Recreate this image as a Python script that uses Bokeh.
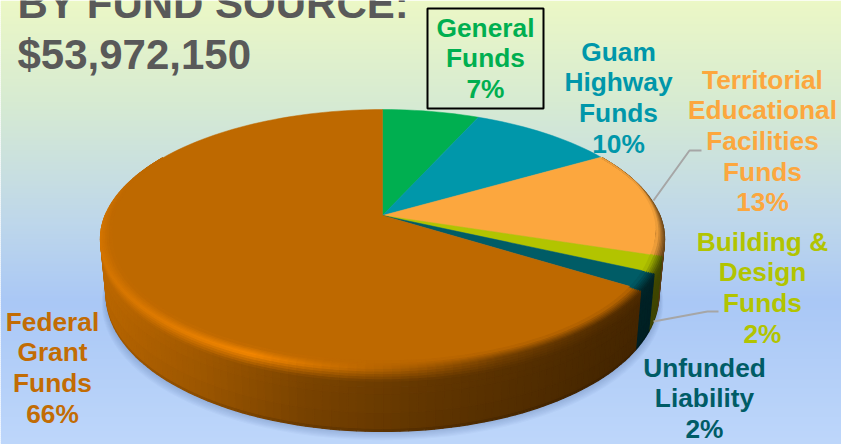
import numpy as np
from bokeh.plotting import figure
from bokeh.models import Range1d, ColumnDataSource
from bokeh.core.properties import value
from bokeh.embed import file_html
from bokeh.resources import INLINE

# ---- data
categories = ["General Funds", "Guam Highway Funds", "Territorial Educational Facilities Funds",
              "Building & Design Funds", "Unfunded Liability", "Federal Grant Funds"]
percent = [6.6, 9.9, 13.5, 2, 2, 66]
label_lines = [["General", "Funds", "7%"], ["Guam", "Highway", "Funds", "10%"],
               ["Territorial", "Educational", "Facilities", "Funds", "13%"],
               ["Building &", "Design", "Funds", "2%"], ["Unfunded", "Liability", "2%"],
               ["Federal", "Grant", "Funds", "66%"]]
title_lines = ["BY FUND SOURCE:", "$53,972,150"]

# ---- style / layout
colors = [(0, 175, 80), (0, 151, 170), (252, 167, 62), (178, 196, 0), (0, 92, 102), (190, 105, 0)]
text_colors = ["#00AF50", "#0097AA", "#FCA73E", "#B2C400", "#005C66", "#C26C04"]
label_x = [485, 618, 762, 762, 704, 52]
label_y0 = [27, 51, 79, 241, 367, 321]
LINE = 30.7
CX, CY, K, A, B = 382.0, 215.0, 0.1815, 125.2, 277.3


def top(theta, r=1.0):
    u, v = r * np.sin(theta), -r * np.cos(theta)
    w = 1 - K * v
    return CX + B * u / w, CY + A * v / w


def pos(theta, s):
    """s<0: inside the top face, s>=0: down the side wall."""
    if s < 0:
        fade = np.clip((theta - np.radians(70)) / np.radians(40), 0, 1) * np.clip((np.radians(300) - theta) / np.radians(40), 0, 1)
        return top(theta, 1 + 0.04 * s * max(fade, 0.1))
    x, y = top(theta)
    v = -np.cos(theta)
    return CX + (x - CX) * (1 - 0.02 * s), y + s * (54 + 9 * v)


def rgb(c, m):
    return "#%02x%02x%02x" % tuple(int(min(255, max(0, ch * m))) for ch in c)


p = figure(width=841, height=444, output_backend="svg", toolbar_location=None,
           x_range=Range1d(0, 841), y_range=Range1d(444, 0), min_border=0)
p.axis.visible = False
p.grid.visible = False
p.outline_line_color = None

# background gradient
ys = np.arange(0, 444, 2)
bg_r = np.interp(ys, [0, 100, 222, 300, 444], [236, 215, 190, 170, 190])
bg_g = np.interp(ys, [0, 100, 222, 300, 444], [248, 235, 215, 200, 215])
bg_b = np.interp(ys, [0, 100, 222, 300, 444], [198, 210, 235, 246, 251])
bg = ["#%02x%02x%02x" % (int(r), int(g), int(b)) for r, g, b in zip(bg_r, bg_g, bg_b)]
p.quad(left=0, right=841, top=ys, bottom=ys + 2.5, fill_color=bg, line_color=None)

# soft shadow
th_all = np.radians(np.arange(0, 360, 3))
for k in range(1, 9):
    pts = [pos(t, 1) for t in th_all]
    xs = [CX + (a - CX) * (1 + 0.002 * k) for a, _ in pts]
    yy = [b + k * 1.1 for _, b in pts]
    p.patch(xs, yy, fill_color="#3c5082", fill_alpha=0.035, line_color=None)

# slices
cum = np.cumsum([0] + percent) / sum(percent) * 2 * np.pi
wedge_x, wedge_y, wedge_c = [], [], []
for i in range(len(percent)):
    th = np.linspace(cum[i], cum[i + 1], max(4, int(percent[i] * 2)))
    x, y = top(th)
    wedge_x.append([CX] + list(x))
    wedge_y.append([CY] + list(y))
    wedge_c.append(rgb(colors[i], 1))


def color_at(theta):
    return colors[int(np.searchsorted(cum, theta, side="right") - 1) % len(colors)]


# side wall with bevel, as small shaded cells
levels = [-1, -0.8, -0.6, -0.45, -0.3, -0.15, 0, 0.04, 0.08, 0.12, 0.16, 0.2, 0.3, 0.4, 0.7, 0.95, 1]
side_x_keys = [100, 200, 300, 420, 600, 665]
side_m_keys = [1.0, 0.85, 0.66, 0.53, 0.39, 0.36]
ridge_x_keys = [100, 170, 250, 340, 420, 500, 600, 665]
ridge_m_keys = [1.12, 1.2, 1.3, 1.05, 0.85, 0.62, 0.45, 0.4]
angles = np.radians(np.arange(60, 300.01, 1.5))
cx_s, cy_s, cc_s = [], [], []
for s0, s1 in reversed(list(zip(levels[:-1], levels[1:]))):
    for a0, a1 in zip(angles[:-1], angles[1:]):
        am = (a0 + a1) / 2
        base = color_at(am)
        xm = top(am)[0]
        f = float(np.interp(xm, side_x_keys, side_m_keys))
        h = float(np.interp(xm, ridge_x_keys, ridge_m_keys))
        back = float(np.clip((am - np.radians(262)) / np.radians(30), 0, 1))
        h = h + (1 - h) * back
        if s1 > 0 and not (np.radians(88) < am < np.radians(272)):
            continue
        sm = (s0 + s1) / 2
        m = float(np.interp(sm, [-1, 0, 0.2, 0.95, 1], [1, h, f, f * 0.95, f * 0.75]))
        q = [pos(a0, s0), pos(a1, s0), pos(a1, s1), pos(a0, s1)]
        cx_s.append([t[0] for t in q])
        cy_s.append([t[1] for t in q])
        cc_s.append(rgb(base, m))

p.patches(wedge_x, wedge_y, fill_color=wedge_c, line_color=wedge_c, line_width=0.5)
p.patches(cx_s, cy_s, fill_color=cc_s, line_color=cc_s, line_width=1.3)

# leader lines
p.line([653, 689, 701], [200, 150, 150], line_color="#a6a6a6", line_width=2)
p.line([653, 707, 718], [321, 311, 311], line_color="#a6a6a6", line_width=2)

# box
p.quad(left=427, right=543, top=8, bottom=108, fill_color=None, line_color="black", line_width=2)

# texts
tx, ty, tt, tc = [], [], [], []
for lines, x0, y0, c in zip(label_lines, label_x, label_y0, text_colors):
    for j, t in enumerate(lines):
        tx.append(x0)
        ty.append(y0 + j * LINE)
        tt.append(t)
        tc.append(c)
src = ColumnDataSource(dict(x=tx, y=ty, t=tt, c=tc))
p.text("x", "y", text="t", source=src, text_color="c", text_align="center", text_baseline="middle",
       text_font=value("Liberation Sans"), text_font_style="bold", text_font_size="26.3px")
p.text([17, 17], [3, 54], text=title_lines, text_color="#595959", text_align="left", text_baseline="middle",
       text_font=value("Liberation Sans"), text_font_style="bold", text_font_size="42px")

open("out.html", "w").write(file_html(p, INLINE))
